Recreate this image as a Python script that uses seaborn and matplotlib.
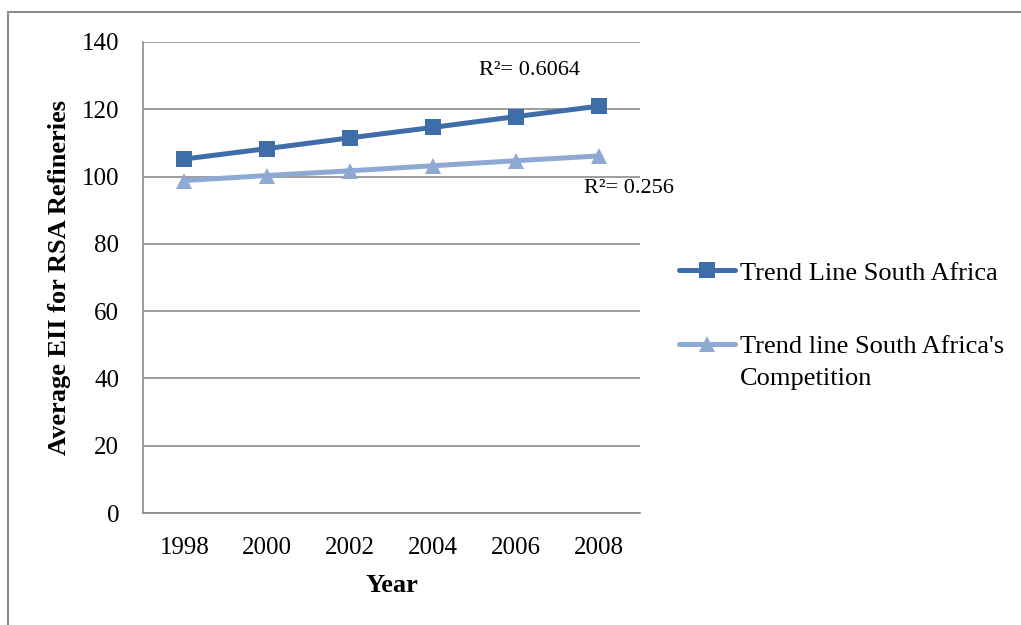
# EII trend lines, South Africa vs competition

import matplotlib
matplotlib.use("Agg")
import matplotlib.pyplot as plt
import pandas as pd
import seaborn as sns
from matplotlib.patches import Rectangle

# Data
years = [1998, 2000, 2002, 2004, 2006, 2008]
south_africa = [105.2, 108.3, 111.5, 114.6, 117.8, 120.9]
competition = [98.8, 100.3, 101.7, 103.2, 104.7, 106.1]
series_names = ["Trend Line South Africa", "Trend line South Africa's"]
legend_extra = "Competition"
r2_labels = ["R\u00b2= 0.6064", "R\u00b2= 0.256"]

df = pd.DataFrame({
    "Year": years * 2,
    "EII": south_africa + competition,
    "Series": [series_names[0]] * 6 + [series_names[1]] * 6,
})

sns.set_style("white", {"text.color": "black", "axes.labelcolor": "black",
                        "xtick.color": "black", "ytick.color": "black"})
plt.rcParams["font.family"] = ["Liberation Serif", "DejaVu Serif"]

fig = plt.figure(figsize=(10.21, 6.25), dpi=100)
ax = fig.add_axes([0.140, 0.179, 0.487, 0.754])

colors = ["#3F6DA8", "#8DA9D4"]
sns.lineplot(data=df, x="Year", y="EII", hue="Series", style="Series",
             markers=["s", "^"], dashes=False, palette=colors,
             linewidth=3.6, markersize=11, markeredgewidth=0, ax=ax)

ax.set_xlim(1997, 2009)
ax.set_ylim(0, 140)
ax.set_xticks(years)
ax.set_yticks(range(0, 141, 20))
ax.tick_params(labelsize=18, length=0, pad=17)
ax.yaxis.grid(True, color="#8c8c8c", linewidth=1.2)
ax.set_axisbelow(True)
for side in ["top", "right"]:
    ax.spines[side].set_visible(False)
for side in ["left", "bottom"]:
    ax.spines[side].set_color("#8c8c8c")
    ax.spines[side].set_linewidth(1.2)

ax.set_xlabel("Year", fontsize=19, fontweight="bold", labelpad=11)
ax.set_ylabel("Average EII for RSA Refineries", fontsize=19, fontweight="bold", labelpad=8)

# R-squared labels
ax.text(2005.1, 131.5, r2_labels[0], fontsize=16, va="center")
ax.text(2007.65, 96.4, r2_labels[1], fontsize=16, va="center")

# Legend on the right
handles, labels = ax.get_legend_handles_labels()
ax.get_legend().remove()
leg = fig.legend(handles, labels, loc="upper left", bbox_to_anchor=(0.655, 0.599),
                 frameon=False, fontsize=19, handlelength=2.1, handletextpad=0.2,
                 labelspacing=1.9, borderaxespad=0)

# second line of the competition label, under its legend text
fig.canvas.draw()
bb = leg.get_texts()[1].get_window_extent().transformed(fig.transFigure.inverted())
fig.text(bb.x0, bb.y0 - 0.015, legend_extra, fontsize=19, va="top", ha="left")

# Outer frame
fig.patches.append(Rectangle((0.008, -0.01), 1.1, 0.991, transform=fig.transFigure,
                             fill=False, edgecolor="#8c8c8c", linewidth=1.5))

fig.savefig("out.png", dpi=100)
